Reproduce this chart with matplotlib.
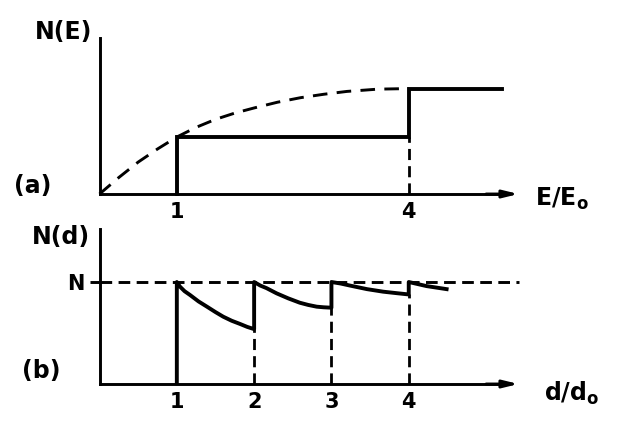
import matplotlib
matplotlib.use('Agg')
import matplotlib.pyplot as plt
import numpy as np

plt.rcParams['font.family'] = 'DejaVu Sans'
plt.rcParams['font.weight'] = 'bold'
plt.rcParams['mathtext.fontset'] = 'custom'
plt.rcParams['mathtext.rm'] = 'DejaVu Sans:bold'
plt.rcParams['mathtext.it'] = 'DejaVu Sans:bold'
plt.rcParams['mathtext.bf'] = 'DejaVu Sans:bold'

# (a) N(E): dashed envelope and step function
e_curve = [0, 0.25, 0.5, 0.75, 1.0, 1.25, 1.5, 1.75, 2.0, 2.3, 2.6, 2.9, 3.2, 3.6, 4.0]
n_curve = [0, 0.29, 0.56, 0.79, 1.0, 1.17, 1.31, 1.42, 1.51, 1.61, 1.69, 1.75, 1.80, 1.84, 1.85]
e_step = [1, 1, 4, 4, 5.2]
n_step = [0, 1.0, 1.0, 1.85, 1.85]
e_ticks = [1, 4]

# (b) N(d): decay after each doubling step
seg1_d = [1.0, 1.04, 1.10, 1.17, 1.28, 1.39, 1.50, 1.60, 1.71, 1.82, 1.91, 2.0]
seg1_n = [1.0, 0.955, 0.91, 0.873, 0.81, 0.758, 0.705, 0.66, 0.62, 0.588, 0.56, 0.538]
seg2_d = [2.0, 2.08, 2.16, 2.29, 2.44, 2.59, 2.70, 2.81, 2.90, 3.0]
seg2_n = [1.0, 0.965, 0.94, 0.889, 0.84, 0.797, 0.775, 0.758, 0.752, 0.748]
seg3_d = [3.0, 3.12, 3.24, 3.46, 3.67, 3.85, 4.0]
seg3_n = [1.0, 0.985, 0.965, 0.93, 0.905, 0.89, 0.878]
seg4_d = [4.0, 4.23, 4.49]
seg4_n = [1.0, 0.96, 0.93]
d_ticks = [1, 2, 3, 4]

LW = 2.8
AXW = 2.1
DASH = (4, 2.2)

fig = plt.figure(figsize=(6.22, 4.32), dpi=100)
ax1 = fig.add_axes([0.16, 0.5509, 0.696, 0.3694])
ax2 = fig.add_axes([0.16, 0.1111, 0.696, 0.3778])

for ax in (ax1, ax2):
    ax.set_xlim(0, 5.6)
    for s in ('top', 'right'):
        ax.spines[s].set_visible(False)
    ax.spines['left'].set_linewidth(AXW)
    ax.spines['bottom'].set_linewidth(AXW)
    ax.set_facecolor('none')
    ax.tick_params(axis='x', length=0, pad=6, labelsize=15)

# ---- panel (a)
ax1.set_ylim(0, 2.8)
ax1.spines['left'].set_bounds(0, 2.74)
ax1.spines['bottom'].set_bounds(0, 5.2)
ax1.annotate('', xy=(5.42, 0), xytext=(5.0, 0),
             arrowprops=dict(arrowstyle='-|>,head_length=0.9,head_width=0.22',
                             lw=AXW, color='k', shrinkA=0, shrinkB=0))
ax1.plot(e_curve, n_curve, color='k', lw=2.1, dashes=(5, 3.2),
         solid_joinstyle='round', dash_joinstyle='round', clip_on=False)
ax1.plot(e_step, n_step, color='k', lw=LW, solid_joinstyle='miter', clip_on=False)
ax1.plot([4, 4], [0, 1.0], color='k', lw=2.0, dashes=DASH)
ax1.set_xticks(e_ticks)
ax1.set_xticklabels([str(t) for t in e_ticks], fontweight='bold')
ax1.set_yticks([])
ax1.text(-0.47, 2.84, 'N(E)', fontsize=17, ha='center', va='center')
ax1.text(-0.87, 0.14, '(a)', fontsize=17, ha='center', va='center')
ax1.text(5.63, -0.09, r'$\mathbf{E/E_o}$', fontsize=17, ha='left', va='center')

# ---- panel (b)
ax2.set_ylim(0, 1.6)
ax2.spines['left'].set_bounds(0, 1.52)
ax2.spines['bottom'].set_bounds(0, 5.2)
ax2.annotate('', xy=(5.42, 0), xytext=(5.0, 0),
             arrowprops=dict(arrowstyle='-|>,head_length=0.9,head_width=0.22',
                             lw=AXW, color='k', shrinkA=0, shrinkB=0))
ax2.plot([0, 5.43], [1, 1], color='k', lw=2.1, dashes=DASH, clip_on=False)
path_d = [1.0] + seg1_d + seg2_d + seg3_d + seg4_d
path_n = [0.0] + seg1_n + seg2_n + seg3_n + seg4_n
ax2.plot(path_d, path_n, color='k', lw=LW, solid_joinstyle='round')
for dd, nn in ((seg1_d[-1], seg1_n[-1]), (seg2_d[-1], seg2_n[-1]), (seg3_d[-1], seg3_n[-1])):
    ax2.plot([dd, dd], [0, nn], color='k', lw=2.0, dashes=DASH)
ax2.set_xticks(d_ticks)
ax2.set_xticklabels([str(t) for t in d_ticks], fontweight='bold')
ax2.set_yticks([1])
ax2.set_yticklabels(['N'], fontweight='bold')
ax2.tick_params(axis='y', length=7, width=AXW, direction='out', pad=4, labelsize=15)
ax2.text(-0.50, 1.44, 'N(d)', fontsize=17, ha='center', va='center')
ax2.text(-0.76, 0.13, '(b)', fontsize=17, ha='center', va='center')
ax2.text(5.75, -0.09, r'$\mathbf{d/d_o}$', fontsize=17, ha='left', va='center')

fig.savefig('out.png', dpi=100)
